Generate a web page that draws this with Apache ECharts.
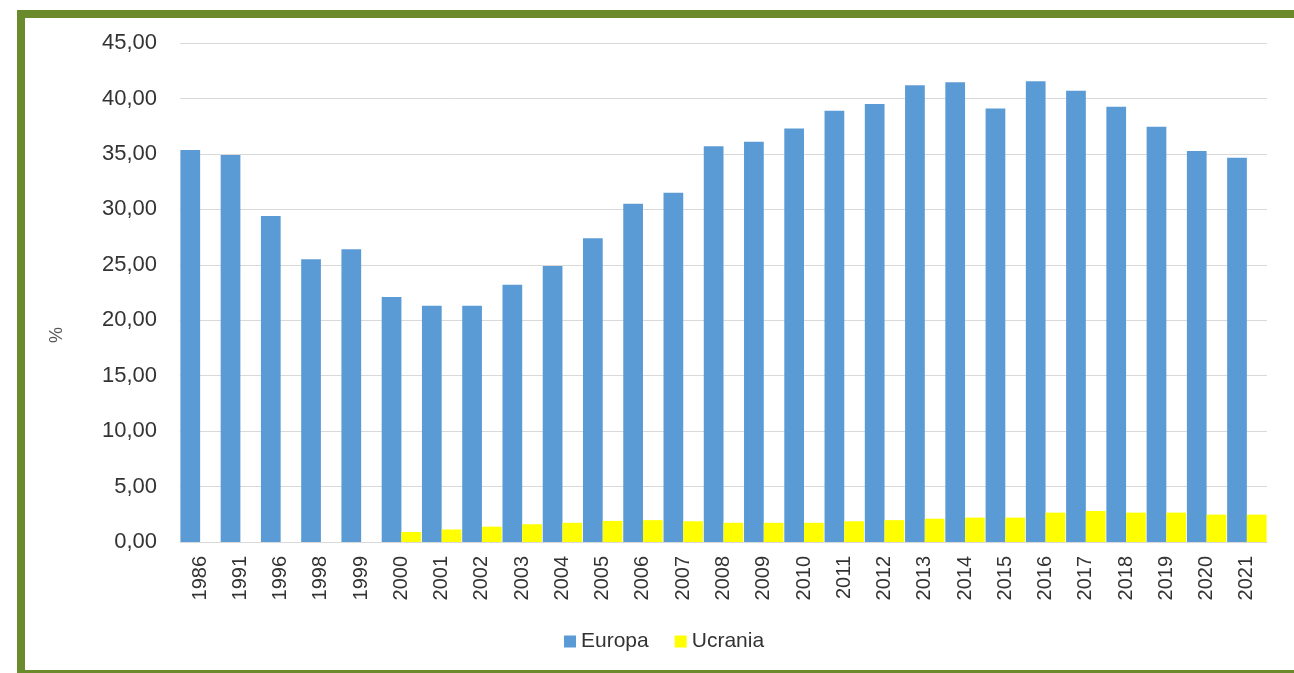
<!DOCTYPE html>
<html>
<head>
<meta charset="utf-8">
<script src="https://cdn.jsdelivr.net/npm/echarts@6/dist/echarts.min.js"></script>
<style>
  html, body { margin: 0; padding: 0; background: #ffffff; overflow: hidden; }
  #wrap { position: relative; width: 1294px; height: 673px; overflow: hidden; }
  #frame { position: absolute; left: 17px; top: 10px; width: 1300px; height: 668px;
           border: 8px solid #6b8a2c; box-sizing: border-box; }
  #chart { position: absolute; left: 0; top: 0; width: 1294px; height: 673px; }
</style>
</head>
<body>
<div id="wrap">
  <div id="frame"></div>
  <div id="chart"></div>
</div>
<script>
const categories = ['1986','1991','1996','1998','1999','2000','2001','2002','2003','2004','2005','2006','2007','2008','2009','2010','2011','2012','2013','2014','2015','2016','2017','2018','2019','2020','2021'];
const europa = [35.35, 34.9, 29.4, 25.5, 26.4, 22.1, 21.3, 21.3, 23.2, 24.9, 27.4, 30.5, 31.5, 35.7, 36.1, 37.3, 38.9, 39.5, 41.2, 41.45, 39.1, 41.55, 40.7, 39.25, 37.45, 35.25, 34.65];
const ucrania = [null, null, null, null, null, 0.9, 1.13, 1.38, 1.6, 1.73, 1.9, 1.97, 1.87, 1.73, 1.73, 1.73, 1.87, 1.97, 2.1, 2.2, 2.2, 2.65, 2.8, 2.65, 2.65, 2.47, 2.47];
const yTicks = { min: 0, max: 45, interval: 5 };
const yAxisTitle = '%';

const chart = echarts.init(document.getElementById('chart'), null, { renderer: 'canvas' });
const font = 'Liberation Sans, Arial, sans-serif';
chart.setOption({
  animation: false,
  backgroundColor: 'transparent',
  textStyle: { fontFamily: font },
  grid: { left: 180, right: 27, top: 43, bottom: 131, containLabel: false },
  graphic: [{
    type: 'text', x: 57, y: 335, rotation: Math.PI / 2,
    style: { text: yAxisTitle, fontSize: 18, fill: '#595959', fontFamily: font, align: 'center', verticalAlign: 'middle' }
  }],
  legend: {
    top: 626, left: 559,
    itemWidth: 12, itemHeight: 12, itemGap: 26,
    icon: 'rect',
    textStyle: { fontSize: 21, color: '#333', fontFamily: font },
    data: ['Europa', 'Ucrania']
  },
  xAxis: {
    type: 'category',
    data: categories,
    axisLine: { show: true, lineStyle: { color: '#d9d9d9', width: 1 } },
    axisTick: { show: false },
    axisLabel: { rotate: 90, margin: 14, fontSize: 20, color: '#333', fontFamily: font, interval: 0 }
  },
  yAxis: {
    type: 'value',
    min: yTicks.min, max: yTicks.max, interval: yTicks.interval,
    axisLine: { show: false },
    axisTick: { show: false },
    splitLine: { lineStyle: { color: '#d9d9d9', width: 1 } },
    axisLabel: {
      margin: 23, fontSize: 22, color: '#333', fontFamily: font,
      formatter: v => v.toFixed(2).replace('.', ',')
    }
  },
  series: [
    { name: 'Europa', type: 'bar', data: europa, itemStyle: { color: '#5b9bd5' }, barGap: '0%', barCategoryGap: '2%' },
    { name: 'Ucrania', type: 'bar', data: ucrania, itemStyle: { color: '#ffff00' }, barGap: '0%', barCategoryGap: '2%' }
  ]
});
</script>
</body>
</html>
